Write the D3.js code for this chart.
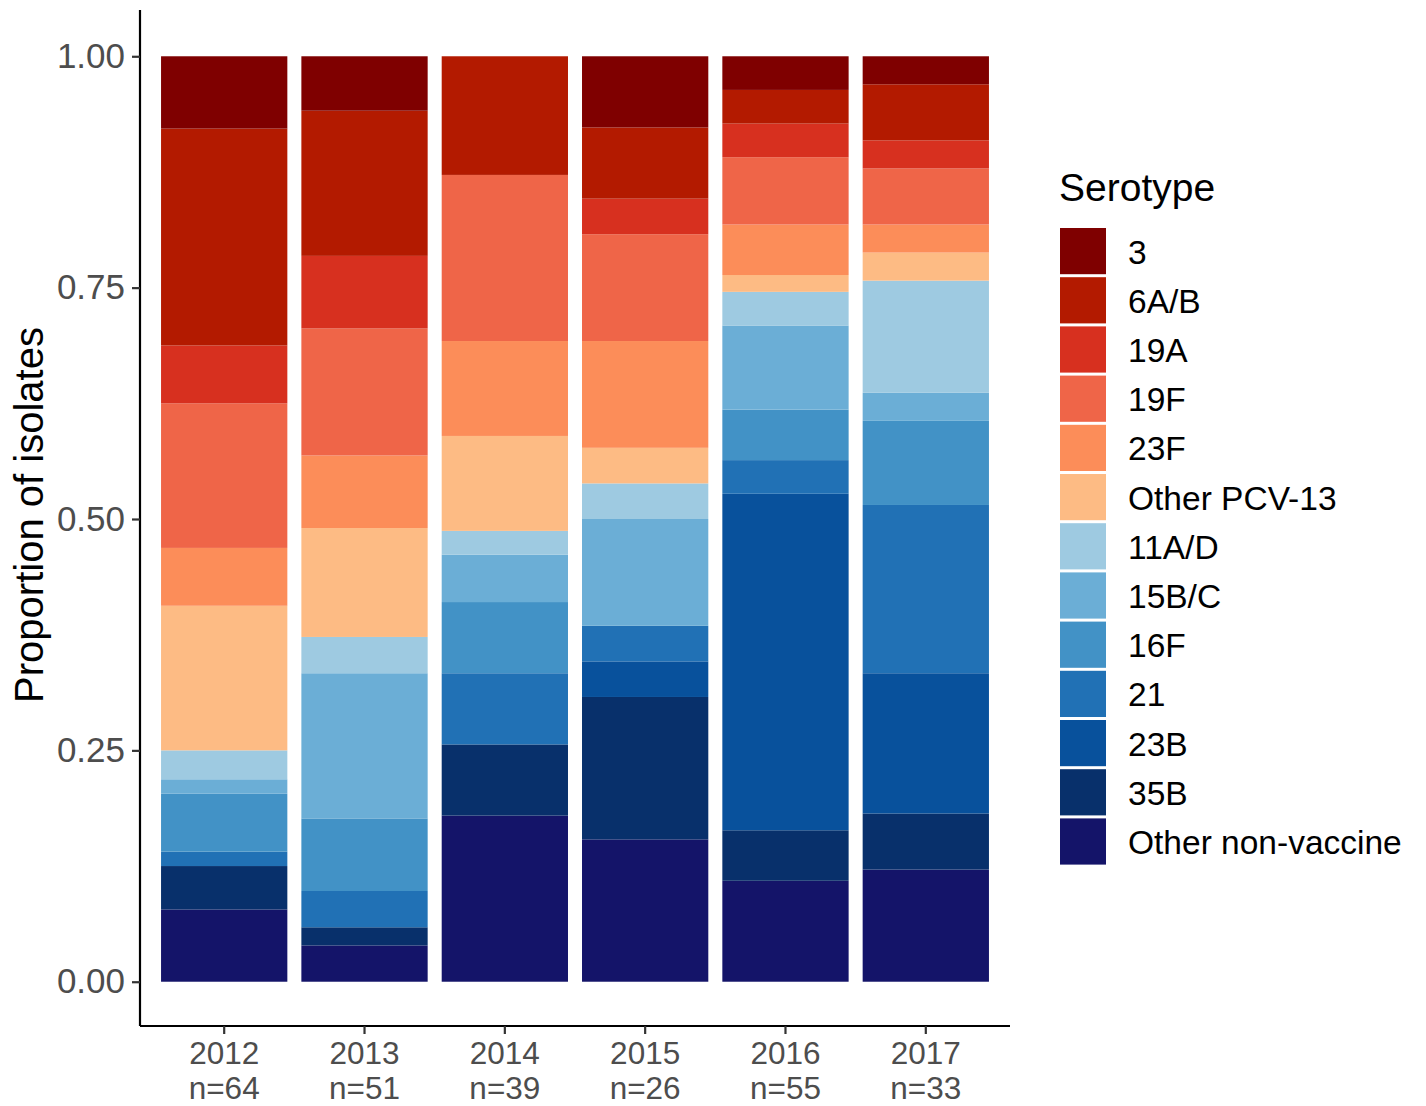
<!DOCTYPE html>
<html>
<head>
<meta charset="utf-8">
<script src="https://cdn.jsdelivr.net/npm/d3@7"></script>
<style>
  body { margin: 0; background: #fff; }
  svg { display: block; font-family: "Liberation Sans", Arial, sans-serif; }
</style>
</head>
<body>
<svg id="chart" width="1426" height="1106"></svg>
<script>
// years and number of isolates
const years = ["2012", "2013", "2014", "2015", "2016", "2017"];
const nIsolates = [64, 51, 39, 26, 55, 33];

// serotypes in legend order (top of stack first)
const serotypes = ["3", "6A/B", "19A", "19F", "23F", "Other PCV-13",
  "11A/D", "15B/C", "16F", "21", "23B", "35B", "Other non-vaccine"];
const colours = ["#7f0000", "#b31a00", "#d7301f", "#ef6548", "#fc8d59", "#fdbb84",
  "#9ecae1", "#6baed6", "#4292c6", "#2171b5", "#08519c", "#08306b", "#141469"];

// isolate counts per serotype, one value per year
const s3 = [5, 3, 0, 2, 2, 1];
const s6AB = [15, 8, 5, 2, 2, 2];
const s19A = [4, 4, 0, 1, 2, 1];
const s19F = [10, 7, 7, 3, 4, 2];
const s23F = [4, 4, 4, 3, 3, 1];
const sOtherPCV = [10, 6, 4, 1, 1, 1];
const s11AD = [2, 2, 1, 1, 2, 4];
const s15BC = [1, 8, 2, 3, 5, 1];
const s16F = [4, 4, 3, 0, 3, 3];
const s21 = [1, 2, 3, 1, 2, 6];
const s23B = [0, 0, 0, 1, 20, 5];
const s35B = [3, 1, 3, 4, 3, 2];
const sOtherNV = [5, 2, 7, 4, 6, 4];

const yTicks = [0, 0.25, 0.5, 0.75, 1];

const counts = [s3, s6AB, s19A, s19F, s23F, sOtherPCV, s11AD, s15BC, s16F, s21, s23B, s35B, sOtherNV];

// table of proportions for d3.stack
const table = years.map((yr, i) => {
  const row = { year: yr, n: nIsolates[i] };
  serotypes.forEach((s, j) => row[s] = counts[j][i] / nIsolates[i]);
  return row;
});

const svg = d3.select("#chart");
const plotLeft = 140, plotRight = 1010, plotTop = 10, plotBottom = 1026;

const x = d3.scaleBand()
  .domain(years)
  .range([plotLeft, plotRight])
  .paddingInner(0.1)
  .paddingOuter(0.15);

const y = d3.scaleLinear()
  .domain([-0.05, 1.05])
  .range([plotBottom + 2, plotTop]);

const colour = d3.scaleOrdinal().domain(serotypes).range(colours);

// bottom of stack = last serotype
const stack = d3.stack().keys(serotypes.slice().reverse());
const layers = stack(table);

svg.append("g")
  .selectAll("g")
  .data(layers)
  .join("g")
  .attr("fill", d => colour(d.key))
  .selectAll("rect")
  .data(d => d)
  .join("rect")
  .attr("x", d => x(d.data.year))
  .attr("width", x.bandwidth())
  .attr("y", d => y(d[1]))
  .attr("height", d => Math.max(0, y(d[0]) - y(d[1])));

// y axis
const yAxis = svg.append("g")
  .attr("transform", `translate(${plotLeft},0)`)
  .call(d3.axisLeft(y).tickValues(yTicks).tickFormat(d3.format(".2f")).tickSizeOuter(0).tickSize(8).tickPadding(7));
yAxis.select(".domain").attr("stroke", "#000").attr("stroke-width", 2.2)
  .attr("d", `M0,${plotTop}V${plotBottom}`);
yAxis.selectAll(".tick line").attr("stroke", "#333").attr("stroke-width", 2.2);
yAxis.selectAll(".tick text").attr("fill", "#4d4d4d").style("font-size", "35px");

// x axis
const xAxis = svg.append("g")
  .attr("transform", `translate(0,${plotBottom})`)
  .call(d3.axisBottom(x).tickSizeOuter(0).tickSize(8).tickFormat(""));
xAxis.select(".domain").attr("stroke", "#000").attr("stroke-width", 2.2)
  .attr("d", `M${plotLeft},0H${plotRight}`);
xAxis.selectAll(".tick line").attr("stroke", "#333").attr("stroke-width", 2.2);

// two-line category labels: year, then sample size
const labelG = svg.append("g")
  .attr("fill", "#4d4d4d")
  .attr("text-anchor", "middle")
  .style("font-size", "31.5px");
labelG.selectAll("text.yr")
  .data(table)
  .join("text")
  .attr("class", "yr")
  .attr("x", d => x(d.year) + x.bandwidth() / 2)
  .attr("y", 1064)
  .text(d => d.year);
labelG.selectAll("text.n")
  .data(table)
  .join("text")
  .attr("class", "n")
  .attr("x", d => x(d.year) + x.bandwidth() / 2)
  .attr("y", 1099)
  .text(d => "n=" + d.n);

// y title
svg.append("text")
  .attr("transform", "translate(43,515) rotate(-90)")
  .attr("text-anchor", "middle")
  .style("font-size", "40px")
  .attr("fill", "#000")
  .text("Proportion of isolates");

// legend
const legend = svg.append("g").attr("transform", "translate(1059,0)");
legend.append("text")
  .attr("x", 0).attr("y", 201)
  .style("font-size", "39px")
  .text("Serotype");

const rowStep = 49.2, keyTop = 227;
const items = legend.selectAll("g.item")
  .data(serotypes)
  .join("g")
  .attr("class", "item")
  .attr("transform", (d, i) => `translate(0,${keyTop + i * rowStep})`);
items.append("rect")
  .attr("x", 1).attr("y", 1)
  .attr("width", 46).attr("height", rowStep - 3)
  .attr("fill", d => colour(d));
items.append("text")
  .attr("x", 69)
  .attr("y", rowStep / 2 + 12)
  .style("font-size", "33.5px")
  .text(d => d);
</script>
</body>
</html>
